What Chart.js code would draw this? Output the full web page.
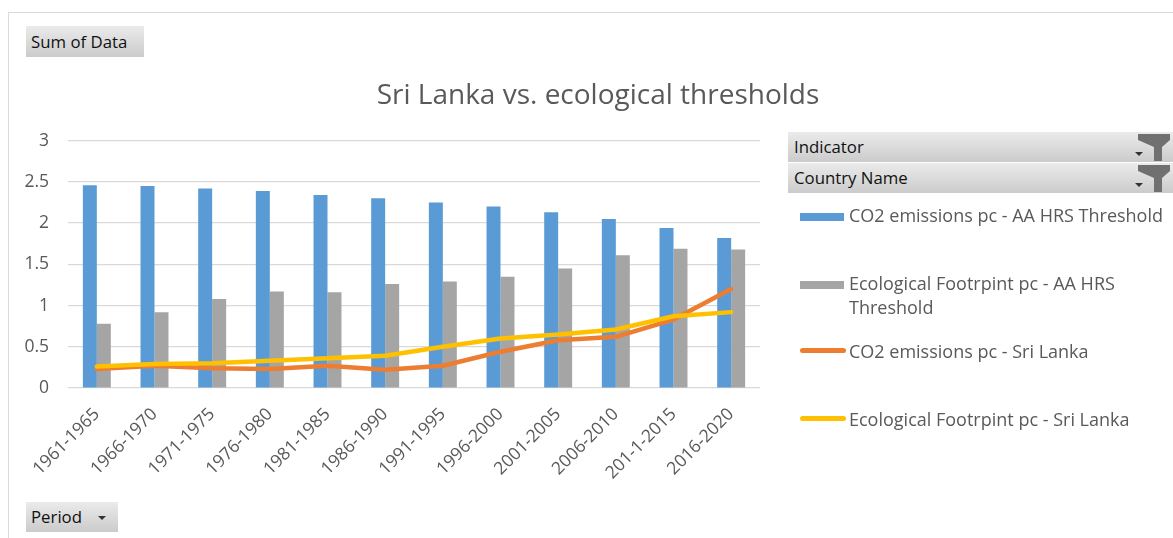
<!DOCTYPE html>
<html>
<head>
<meta charset="utf-8">
<title>Sri Lanka vs. ecological thresholds</title>
<script src="https://cdn.jsdelivr.net/npm/chart.js@4.4.1/dist/chart.umd.min.js"></script>
<style>
  html, body { margin: 0; padding: 0; background: #fff; overflow: hidden; }
  body { width: 1173px; height: 538px; position: relative; font-family: "Open Sans", Lato, sans-serif; }
  .frame { position: absolute; left: 8px; top: 12px; width: 1200px; height: 600px;
           border-left: 1px solid #d9d9d9; border-top: 1px solid #d9d9d9; }
  .chart-box { position: absolute; left: 8px; top: 12px; width: 1180px; height: 516px; }
  .pivot-btn { position: absolute; box-sizing: border-box; height: 31px; padding-left: 5px;
               background: linear-gradient(#ebebeb, #cbcbcb); color: #111;
               font-size: 16.8px; line-height: 31px; white-space: nowrap; }
  .pivot-btn .tri { position: absolute; width: 0; height: 0;
                    border-left: 4px solid transparent; border-right: 4px solid transparent;
                    border-top: 4px solid #333; }
  .pivot-btn svg { position: absolute; }
  #legend { position: absolute; left: 800px; top: 203px; width: 373px;
            color: #595959; font-size: 18px; }
  #legend .item { position: relative; height: 68px; }
  #legend .swatch { position: absolute; left: 0; }
  #legend .text { position: absolute; left: 49px; top: 0; width: 322px; line-height: 24px; }
</style>
</head>
<body>
<div class="frame"></div>
<div class="chart-box"><canvas id="chart"></canvas></div>

<div class="pivot-btn" style="left:26px; top:26px; width:118px;">Sum of Data</div>
<div class="pivot-btn" style="left:788px; top:132px; width:400px; height:30px; line-height:30px; padding-left:6px;">Indicator
  <span class="tri" style="left:347px; top:20px;"></span>
  <svg style="left:350px; top:2px;" width="34" height="27" viewBox="0 0 34 27"><path d="M0 0 H32 V6 L24 13 V27 H16 V13 L0 6 Z" fill="#707070"/></svg>
</div>
<div class="pivot-btn" style="left:788px; top:163px; width:400px; height:30px; line-height:30px; padding-left:6px;">Country Name
  <span class="tri" style="left:347px; top:20px;"></span>
  <svg style="left:350px; top:2px;" width="34" height="27" viewBox="0 0 34 27"><path d="M0 0 H32 V6 L24 13 V27 H16 V13 L0 6 Z" fill="#707070"/></svg>
</div>
<div class="pivot-btn" style="left:26px; top:502px; width:92px; height:30px; line-height:30px;">Period
  <span class="tri" style="left:72px; top:14px;"></span>
</div>

<div id="legend"></div>

<script>
// Five-year periods on the category axis (label spelling kept as in the source sheet)
const periods = ['1961-1965', '1966-1970', '1971-1975', '1976-1980', '1981-1985', '1986-1990',
                 '1991-1995', '1996-2000', '2001-2005', '2006-2010', '201-1-2015', '2016-2020'];

// Per-capita thresholds (bars)
const co2Threshold = [2.46, 2.45, 2.42, 2.39, 2.34, 2.30, 2.25, 2.20, 2.13, 2.05, 1.94, 1.82];
const footprintThreshold = [0.78, 0.92, 1.08, 1.17, 1.16, 1.26, 1.29, 1.35, 1.45, 1.61, 1.69, 1.68];

// Sri Lanka actuals (lines)
const co2SriLanka = [0.23, 0.27, 0.24, 0.23, 0.27, 0.22, 0.27, 0.44, 0.58, 0.62, 0.83, 1.20];
const footprintSriLanka = [0.26, 0.29, 0.30, 0.33, 0.36, 0.39, 0.50, 0.60, 0.65, 0.71, 0.87, 0.92];

const yTicks = [0, 0.5, 1, 1.5, 2, 2.5, 3];

const COLORS = { blue: '#5B9BD5', gray: '#A5A5A5', orange: '#ED7D31', gold: '#FFC000',
                 ink: '#595959', grid: '#D9D9D9' };

Chart.defaults.font.family = '"Open Sans", Lato, sans-serif';
Chart.defaults.color = COLORS.ink;

const chart = new Chart(document.getElementById('chart'), {
  type: 'bar',
  data: {
    labels: periods,
    datasets: [
      { label: 'CO2 emissions pc - AA HRS Threshold', data: co2Threshold,
        backgroundColor: COLORS.blue, categoryPercentage: 0.485, barPercentage: 1, order: 3 },
      { label: 'Ecological Footrpint pc - AA HRS Threshold', data: footprintThreshold,
        backgroundColor: COLORS.gray, categoryPercentage: 0.485, barPercentage: 1, order: 3 },
      { type: 'line', label: 'CO2 emissions pc - Sri Lanka', data: co2SriLanka,
        borderColor: COLORS.orange, backgroundColor: COLORS.orange, borderWidth: 4.5,
        pointRadius: 0, tension: 0, borderCapStyle: 'round', borderJoinStyle: 'round', order: 2 },
      { type: 'line', label: 'Ecological Footrpint pc - Sri Lanka', data: footprintSriLanka,
        borderColor: COLORS.gold, backgroundColor: COLORS.gold, borderWidth: 4.5,
        pointRadius: 0, tension: 0, borderCapStyle: 'round', borderJoinStyle: 'round', order: 1 },
    ],
  },
  options: {
    responsive: true,
    maintainAspectRatio: false,
    animation: false,
    layout: { padding: { bottom: 40 } },
    plugins: {
      legend: { display: false },
      tooltip: { enabled: false },
      title: {
        display: true,
        text: 'Sri Lanka vs. ecological thresholds',
        color: COLORS.ink,
        font: { size: 28, weight: 'normal' },
        padding: { top: 67, bottom: 28 },
      },
    },
    scales: {
      x: {
        grid: { display: false, drawTicks: false },
        border: { display: false },
        ticks: { autoSkip: false, minRotation: 45, maxRotation: 45, padding: 16, labelOffset: 0,
                 font: { size: 17.5 }, color: COLORS.ink },
        afterFit: (s) => { s.height = 100; },
      },
      y: {
        min: 0, max: 3,
        grid: { color: COLORS.grid, lineWidth: 1.2, drawTicks: false },
        border: { display: false },
        afterBuildTicks: (axis) => { axis.ticks = yTicks.map(v => ({ value: v })); },
        ticks: { padding: 19, font: { size: 17.5 }, color: COLORS.ink, callback: (v) => String(v) },
        afterFit: (s) => { s.width = 60; },
      },
      // empty right-hand axis: keeps the plot clear of the legend column
      gutter: {
        type: 'linear', position: 'right', display: true,
        grid: { display: false }, border: { display: false }, ticks: { display: false },
        afterFit: (s) => { s.width = 428; },
      },
    },
  },
});

// HTML legend built from the chart's own datasets
function buildLegend(c) {
  const host = document.getElementById('legend');
  c.data.datasets.forEach(ds => {
    const item = document.createElement('div');
    item.className = 'item';
    const sw = document.createElement('span');
    sw.className = 'swatch';
    if (ds.type === 'line') {
      Object.assign(sw.style, { top: '9px', width: '46px', height: '5px', borderRadius: '3px', background: ds.borderColor });
    } else {
      Object.assign(sw.style, { top: '10px', width: '44px', height: '8px', background: ds.backgroundColor });
    }
    const txt = document.createElement('span');
    txt.className = 'text';
    txt.textContent = ds.label;
    item.appendChild(sw);
    item.appendChild(txt);
    host.appendChild(item);
  });
}
buildLegend(chart);
</script>
</body>
</html>
